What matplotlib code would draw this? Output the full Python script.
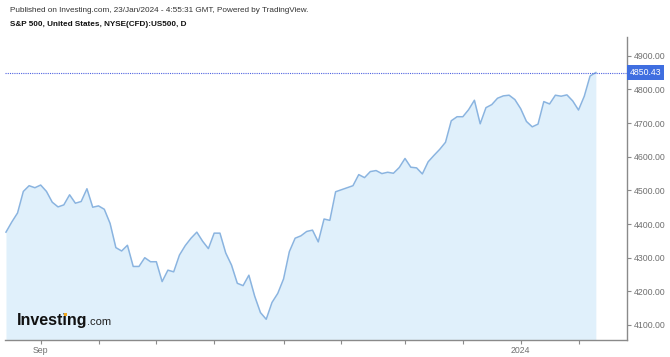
import matplotlib
matplotlib.use("Agg")
import matplotlib.pyplot as plt
from matplotlib.patches import Rectangle

# ---- data ----
dates = (
    ["2023-08-24", "2023-08-25", "2023-08-28", "2023-08-29", "2023-08-30", "2023-08-31"]
    + ["2023-09-%02d" % d for d in [1, 5, 6, 7, 8, 11, 12, 13, 14, 15, 18, 19, 20, 21, 22, 25, 26, 27, 28, 29]]
    + ["2023-10-%02d" % d for d in [2, 3, 4, 5, 6, 9, 10, 11, 12, 13, 16, 17, 18, 19, 20, 23, 24, 25, 26, 27, 30, 31]]
    + ["2023-11-%02d" % d for d in [1, 2, 3, 6, 7, 8, 9, 10, 13, 14, 15, 16, 17, 20, 21, 22, 24, 27, 28, 29, 30]]
    + ["2023-12-%02d" % d for d in [1, 4, 5, 6, 7, 8, 11, 12, 13, 14, 15, 18, 19, 20, 21, 22, 26, 27, 28, 29]]
    + ["2024-01-%02d" % d for d in [2, 3, 4, 5, 8, 9, 10, 11, 12, 16, 17, 18, 19, 22]]
)
closes = [
    4376, 4406, 4433, 4497, 4514, 4508,
    4516, 4497, 4465, 4451, 4457, 4487, 4462, 4467, 4505, 4450,
    4454, 4444, 4402, 4330, 4320, 4337, 4274, 4274, 4300, 4288,
    4288, 4229, 4263, 4258, 4308, 4336, 4358, 4376, 4349, 4327,
    4373, 4373, 4314, 4278, 4224, 4217, 4248, 4186, 4137, 4117, 4167, 4194,
    4237, 4318, 4358, 4365, 4378, 4382, 4347, 4415, 4411, 4496,
    4502, 4508, 4514, 4547, 4538, 4556, 4559, 4550, 4554, 4551, 4568,
    4595, 4569, 4567, 4549, 4585, 4604, 4622, 4643, 4707, 4719,
    4719, 4740, 4768, 4698, 4746, 4755, 4774, 4781, 4783, 4770,
    4743, 4705, 4689, 4697, 4764, 4757, 4783, 4780, 4784, 4766,
    4739, 4780, 4840, 4850.43,
]
last_price = 4850.43
y_ticks = [4100, 4200, 4300, 4400, 4500, 4600, 4700, 4800, 4900]
x_tick_dates = ["2023-09-01", "2023-09-18", "2023-10-02", "2023-10-16", "2023-11-01",
                "2023-11-15", "2023-12-01", "2023-12-15", "2024-01-02", "2024-01-17"]
x_tick_labels = {"2023-09-01": "Sep", "2024-01-02": "2024"}
title_line1 = "Published on Investing.com, 23/Jan/2024 - 4:55:31 GMT, Powered by TradingView."
title_line2 = "S&P 500, United States, NYSE(CFD):US500, D"

# ---- figure ----
W, H = 670, 357
fig = plt.figure(figsize=(W / 100, H / 100), dpi=100)
plt.rcParams["font.family"] = ["Liberation Sans", "DejaVu Sans"]

def fx(px):
    return px / W

def fy(py):
    return 1 - py / H

L, R, T, B = 5, 626.5, 37, 339.5
ax = fig.add_axes([fx(L), fy(B), fx(R) - fx(L), fy(T) - fy(B)])

sep_idx = dates.index("2023-09-01")
xs = [i - sep_idx for i in range(len(dates))]

line_col = "#8ab4e0"
fill_col = "#e0f0fb"
ax.fill_between(xs, closes, 4000, color=fill_col, lw=0)
ax.plot(xs, closes, color=line_col, lw=1.1)

ax.axhline(last_price, color="#4f63e0", lw=0.8, ls=(0, (1, 1)))

ax.set_xlim(-6.17, 101.3)
ax.set_ylim(4056.9, 4956)

for s in ["top", "left"]:
    ax.spines[s].set_visible(False)
for s in ["bottom", "right"]:
    ax.spines[s].set_color("#8a8a8a")
    ax.spines[s].set_linewidth(1.0)

ax.yaxis.tick_right()
ax.set_yticks(y_ticks)
ax.set_yticklabels(["%.2f" % v for v in y_ticks])
tick_pos = [dates.index(d) - sep_idx for d in x_tick_dates]
ax.set_xticks(tick_pos)
ax.set_xticklabels([x_tick_labels.get(d, "") for d in x_tick_dates])
ax.tick_params(axis="both", colors="#8a8a8a", labelcolor="#707070", labelsize=6.3,
               length=3, width=0.8, direction="out")
ax.tick_params(axis="y", pad=2)
ax.tick_params(axis="x", pad=2)

# price label box
ax.annotate("%.2f" % last_price, xy=(1.0, last_price), xycoords=("axes fraction", "data"),
            xytext=(2.3, 0), textcoords="offset points", ha="left", va="center",
            fontsize=6.3, color="white",
            bbox=dict(boxstyle="square,pad=0.32", fc="#3f6ee0", ec="none"),
            annotation_clip=False)

# header
fig.text(fx(10), fy(10), title_line1, fontsize=5.9, color="#333333", va="center", ha="left")
fig.text(fx(10), fy(25), title_line2, fontsize=5.9, color="#111111", va="center", ha="left",
         fontweight="bold")

# logo
base = 325
t1 = fig.text(fx(17), fy(base), "Investing", fontsize=11.5, fontweight="bold", color="#111111",
              va="baseline", ha="left", zorder=4)
fig.canvas.draw()
r = fig.canvas.get_renderer()
bb = t1.get_window_extent(r)
fig.text((bb.x1 - 1.0) / W, fy(base), ".com", fontsize=8, color="#222222", va="baseline",
         ha="left", zorder=4)
tmp = fig.text(fx(17), fy(base), "Invest", fontsize=11.5, fontweight="bold", va="baseline", ha="left")
bb2 = tmp.get_window_extent(r)
tmp.remove()
ix = bb2.x1 / W
fig.add_artist(Rectangle((ix + 0.3 / W, fy(316.3)), 3.4 / W, 3.4 / H, transform=fig.transFigure,
                         fc="#f2a81d", ec="none", zorder=6))

fig.savefig("out.png", dpi=100)
